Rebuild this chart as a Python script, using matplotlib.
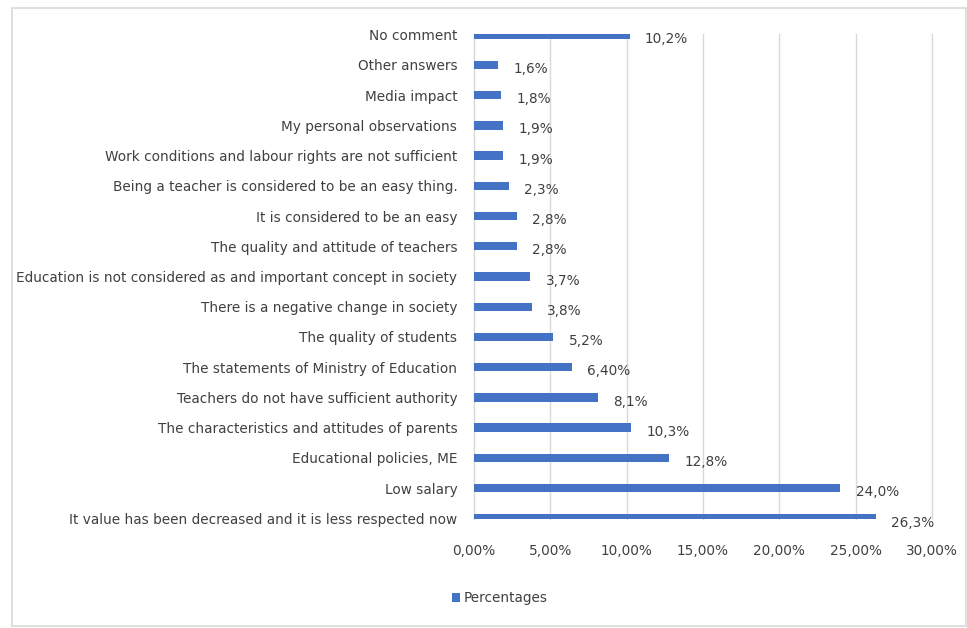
import numpy as np
import matplotlib
matplotlib.use('Agg')
import matplotlib.pyplot as plt
from matplotlib.patches import Rectangle

# answers, listed top to bottom as they appear on the chart
categories = [
    'No comment',
    'Other answers',
    'Media impact',
    'My personal observations',
    'Work conditions and labour rights are not sufficient',
    'Being a teacher is considered to be an easy thing.',
    'It is considered to be an easy',
    'The quality and attitude of teachers',
    'Education is not considered as and important concept in society',
    'There is a negative change in society',
    'The quality of students',
    'The statements of Ministry of Education',
    'Teachers do not have sufficient authority',
    'The characteristics and attitudes of parents',
    'Educational policies, ME',
    'Low salary',
    'It value has been decreased and it is less respected now',
]
percentages = [10.2, 1.6, 1.8, 1.9, 1.9, 2.3, 2.8, 2.8, 3.7, 3.8,
               5.2, 6.4, 8.1, 10.3, 12.8, 24.0, 26.3]
decimals = [1, 1, 1, 1, 1, 1, 1, 1, 1, 1, 1, 2, 1, 1, 1, 1, 1]
x_ticks = [0, 5, 10, 15, 20, 25, 30]

BLUE = '#4472c4'
TEXT = '#404040'
FS = 9.8

fig = plt.figure(figsize=(9.67, 6.28), dpi=100)
fig.patches.append(Rectangle((12 / 967, 2 / 628), 954 / 967, 618 / 628,
                             transform=fig.transFigure, fill=False,
                             edgecolor='#d9d9d9', linewidth=1.2))

ax = fig.add_axes([474 / 967, 1 - 519 / 628, 458 / 967, 485 / 628])

n = len(categories)
y = np.arange(n)[::-1]
values = np.array(percentages) / 100
ax.barh(y, values, height=0.28, color=BLUE, label='Percentages', zorder=3)

for yi, v, d in zip(y, percentages, decimals):
    txt = f'{v:.{d}f}%'.replace('.', ',')
    ax.annotate(txt, (v / 100, yi), xytext=(11, -3), textcoords='offset points',
                ha='left', va='center', fontsize=FS, color=TEXT,
                annotation_clip=False)

# edge bars get cut by the plot area, like in the original workbook
ax.set_xlim(0, 0.30)
ax.set_ylim(-0.02, n - 1 + 0.02)
ax.set_yticks(y)
ax.set_yticklabels(categories, fontsize=FS, color=TEXT)
ax.set_xticks([t / 100 for t in x_ticks])
ax.set_xticklabels([f'{t:.2f}%'.replace('.', ',') for t in x_ticks],
                   fontsize=FS, color=TEXT)
ax.tick_params(axis='y', length=0, pad=12)
ax.tick_params(axis='x', length=0, pad=18)

ax.grid(axis='x', color='#d9d9d9', linewidth=1, zorder=0)
for line in ax.get_xgridlines():
    line.set_clip_on(False)
for side in ['top', 'right', 'bottom']:
    ax.spines[side].set_visible(False)
ax.spines['left'].set_color('#d9d9d9')

fig.legend(loc='center left', bbox_to_anchor=(445 / 967, 1 - 598 / 628),
           frameon=False, borderpad=0, handlelength=0.6, handleheight=0.6,
           handletextpad=0.3, prop={'size': FS}, labelcolor=TEXT)

fig.savefig('out.png', dpi=100)
